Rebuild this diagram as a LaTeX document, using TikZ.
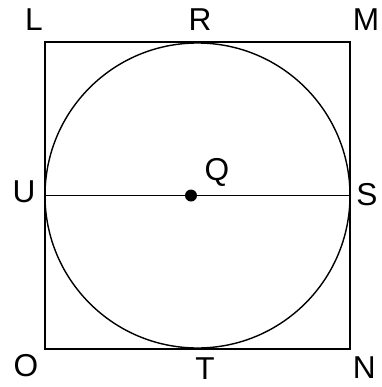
\documentclass[tikz,border=0pt]{standalone}
\usepackage{fontspec}
\setmainfont{Liberation Sans}
\begin{document}
\begin{tikzpicture}[x=.03cm,y=-.03cm,line width=1.5pt,font=\fontsize{27}{27}\selectfont]
\useasboundingbox (0,0) rectangle (381,387);
\coordinate (L) at (45,42);\coordinate (M) at (350,42);\coordinate (N) at (350,349);\coordinate (O) at (45,349);
\coordinate (Q) at (197.5,195.5);\coordinate (U) at (45,195.5);\coordinate (S) at (350,195.5);
\draw (L)--(M)--(N)--(O)--cycle;
\draw[line width=1.2pt] (Q) circle (152.5);
\draw (U)--(S);
\fill (191,195.5) circle (6) coordinate (dot);
\node (lL) at (34,20) {L};\node (lR) at (200,20) {R};\node[anchor=west,inner sep=0pt] (lM) at (352,20) {M};
\node (lU) at (24,192) {U};\node (lQ) at (217,172) {Q};\node (lS) at (367,195) {S};
\node (lO) at (26,366) {O};\node (lT) at (205,369) {T};\node[anchor=west,inner sep=0pt] (lN) at (352,368) {N};
\end{tikzpicture}
\end{document}
